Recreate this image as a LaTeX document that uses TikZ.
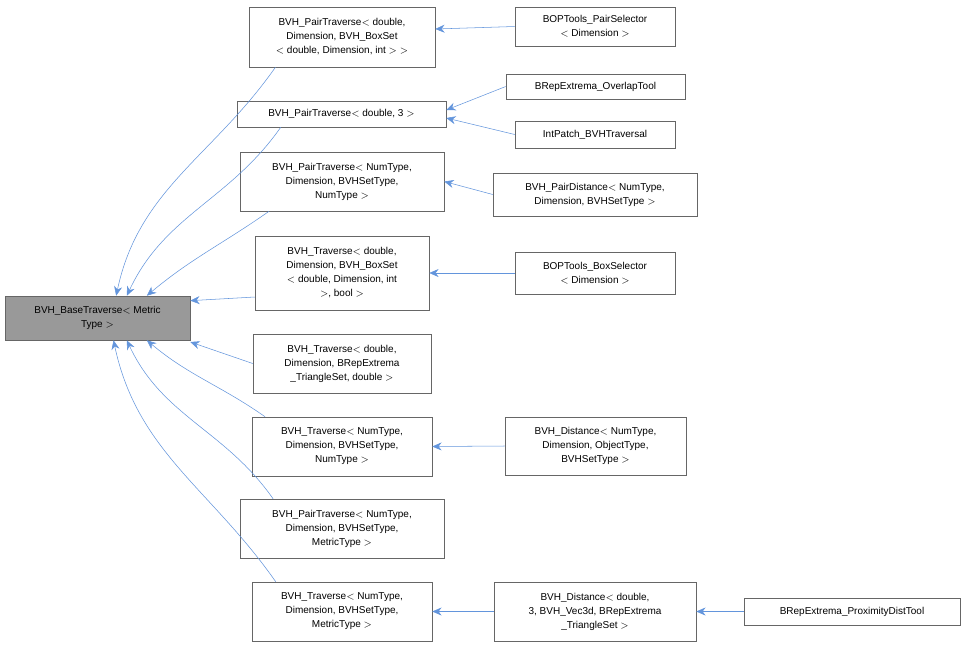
\documentclass[tikz,border=0pt]{standalone}
\usepackage{fontspec}
\setmainfont{Liberation Sans}
\usetikzlibrary{arrows.meta}
\begin{document}
\begin{tikzpicture}[x=0.75pt,y=0.75pt,
    cls/.style={draw=black!60, fill=white, align=center, inner sep=0pt,
      font=\fontsize{7.5}{10.5}\selectfont},
    edge/.style={draw={rgb,255:red,99;green,149;blue,220}, thin,
      {Stealth[length=7pt,width=6pt]}-}]
    \useasboundingbox (0,0) rectangle (964,-647);

    \node[cls, fill=black!40, minimum width=185*0.75pt, minimum height=44*0.75pt] (base) at (97.5,-318) {BVH\_BaseTraverse$<$ Metric\\Type $>$};

    % middle column
    \node[cls, minimum width=186*0.75pt, minimum height=60*0.75pt] (pairBox) at (342,-37) {BVH\_PairTraverse$<$ double,\\Dimension, BVH\_BoxSet\\$<$ double, Dimension, int $>$ $>$};
    \node[cls, minimum width=209*0.75pt, minimum height=26*0.75pt] (pair3) at (341.5,-114) {BVH\_PairTraverse$<$ double, 3 $>$};
    \node[cls, minimum width=204*0.75pt, minimum height=59*0.75pt] (pairNum) at (342,-181.5) {BVH\_PairTraverse$<$ NumType,\\Dimension, BVHSetType,\\NumType $>$};
    \node[cls, minimum width=174*0.75pt, minimum height=74*0.75pt] (travBox) at (342,-273) {BVH\_Traverse$<$ double,\\Dimension, BVH\_BoxSet\\$<$ double, Dimension, int\\$>$, bool $>$};
    \node[cls, minimum width=178*0.75pt, minimum height=59*0.75pt] (travTri) at (342,-363.5) {BVH\_Traverse$<$ double,\\Dimension, BRepExtrema\\\_TriangleSet, double $>$};
    \node[cls, minimum width=180*0.75pt, minimum height=59*0.75pt] (travNum) at (342,-446.5) {BVH\_Traverse$<$ NumType,\\Dimension, BVHSetType,\\NumType $>$};
    \node[cls, minimum width=204*0.75pt, minimum height=59*0.75pt] (pairMet) at (342,-528.5) {BVH\_PairTraverse$<$ NumType,\\Dimension, BVHSetType,\\MetricType $>$};
    \node[cls, minimum width=180*0.75pt, minimum height=59*0.75pt] (travMet) at (342,-611.5) {BVH\_Traverse$<$ NumType,\\Dimension, BVHSetType,\\MetricType $>$};

    % right column
    \node[cls, minimum width=160*0.75pt, minimum height=39*0.75pt] (pairSel) at (595,-26.5) {BOPTools\_PairSelector\\$<$ Dimension $>$};
    \node[cls, minimum width=179*0.75pt, minimum height=25*0.75pt] (overlap) at (595.5,-86.5) {BRepExtrema\_OverlapTool};
    \node[cls, minimum width=160*0.75pt, minimum height=27*0.75pt] (intPatch) at (595,-134.5) {IntPatch\_BVHTraversal};
    \node[cls, minimum width=204*0.75pt, minimum height=43*0.75pt] (pairDist) at (595,-194.5) {BVH\_PairDistance$<$ NumType,\\Dimension, BVHSetType $>$};
    \node[cls, minimum width=160*0.75pt, minimum height=42*0.75pt] (boxSel) at (595,-273) {BOPTools\_BoxSelector\\$<$ Dimension $>$};
    \node[cls, minimum width=181*0.75pt, minimum height=58*0.75pt] (distNum) at (595.5,-446) {BVH\_Distance$<$ NumType,\\Dimension, ObjectType,\\BVHSetType $>$};
    \node[cls, minimum width=202*0.75pt, minimum height=59*0.75pt] (distTri) at (595,-611.5) {BVH\_Distance$<$ double,\\3, BVH\_Vec3d, BRepExtrema\\\_TriangleSet $>$};
    \node[cls, minimum width=216*0.75pt, minimum height=27*0.75pt] (proxTool) at (852,-611.5) {BRepExtrema\_ProximityDistTool};

    \draw[edge] ([xshift=14]base.north) to[out=78,in=235] ([xshift=20]pairBox.south west);
    \draw[edge] ([xshift=22]base.north) to[out=65,in=235] ([xshift=33]pair3.south west);
    \draw[edge] ([xshift=37]base.north) to[out=40,in=215] ([xshift=22]pairNum.south west);
    \draw[edge] ([yshift=13]base.east) -- ([yshift=-18]travBox.west);
    \draw[edge] ([yshift=-18]base.east) -- (travTri.west);
    \draw[edge] ([xshift=37]base.south) to[out=-40,in=145] ([xshift=10]travNum.north west);
    \draw[edge] ([xshift=22]base.south) to[out=-65,in=125] ([xshift=25]pairMet.north west);
    \draw[edge] ([xshift=12]base.south) to[out=-78,in=125] ([xshift=18]travMet.north west);

    \draw[edge] ([yshift=6]pairBox.east) -- (pairSel.west);
    \draw[edge] ([yshift=3]pair3.east) -- (overlap.west);
    \draw[edge] ([yshift=-3]pair3.east) -- (intPatch.west);
    \draw[edge] (pairNum.east) -- (pairDist.west);
    \draw[edge] (travBox.east) -- (boxSel.west);
    \draw[edge] (travNum.east) -- (distNum.west);
    \draw[edge] (travMet.east) -- (distTri.west);
    \draw[edge] (distTri.east) -- (proxTool.west);
\end{tikzpicture}
\end{document}
